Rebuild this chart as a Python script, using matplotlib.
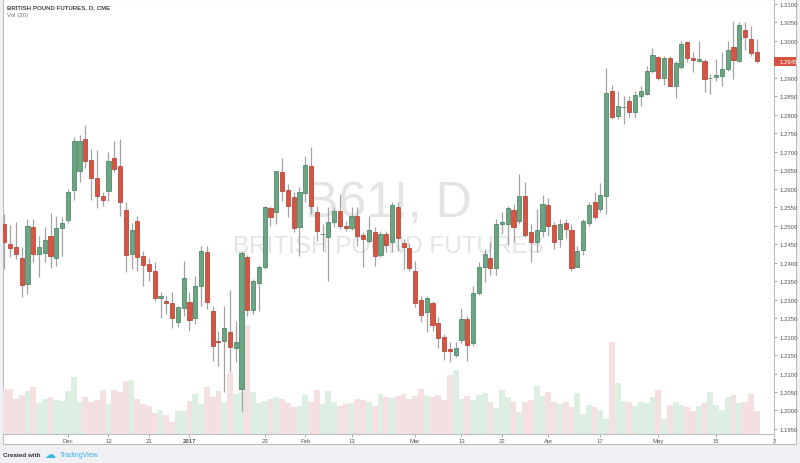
import matplotlib
matplotlib.use('Agg')
import matplotlib.pyplot as plt
from matplotlib.patches import Rectangle
from matplotlib.lines import Line2D
import numpy as np

plt.rcParams['font.family'] = ['Liberation Sans', 'DejaVu Sans']

# daily OHLC, British Pound futures (CME), mid Nov 2016 -> late May 2017
opens = [1.2505, 1.2450, 1.2443, 1.2414, 1.2343, 1.2496, 1.2423, 1.2426, 1.2472, 1.2414,
         1.2495, 1.2516, 1.2596, 1.2649, 1.2735, 1.2679, 1.2629, 1.2580, 1.2595, 1.2683,
         1.2661, 1.2542, 1.2424, 1.2514, 1.2417, 1.2396, 1.2378, 1.2304, 1.2297, 1.2290,
         1.2240, 1.2277, 1.2294, 1.2250, 1.2338, 1.2428, 1.2268, 1.2189, 1.2187, 1.2212,
         1.2169, 1.2058, 1.2416, 1.2272, 1.2344, 1.2388, 1.2547, 1.2536, 1.2646, 1.2597,
         1.2577, 1.2496, 1.2588, 1.2662, 1.2538, 1.2477, 1.2469, 1.2511, 1.2541, 1.2498,
         1.2493, 1.2527, 1.2475, 1.2459, 1.2482, 1.2421, 1.2478, 1.2457, 1.2550, 1.2453,
         1.2440, 1.2377, 1.2300, 1.2266, 1.2291, 1.2237, 1.2198, 1.2166, 1.2150, 1.2192,
         1.2248, 1.2182, 1.2317, 1.2388, 1.2413, 1.2386, 1.2505, 1.2505, 1.2543, 1.2514,
         1.2581, 1.2482, 1.2457, 1.2487, 1.2556, 1.2502, 1.2464, 1.2507, 1.2489, 1.2389,
         1.2435, 1.2507, 1.2563, 1.2545, 1.2581, 1.2865, 1.2798, 1.2820, 1.2838, 1.2807,
         1.2852, 1.2856, 1.2920, 1.2957, 1.2899, 1.2953, 1.2879, 1.2929, 1.2996, 1.2953,
         1.2947, 1.2947, 1.2899, 1.2903, 1.2906, 1.2924, 1.2984, 1.2945, 1.3030, 1.3005,
         1.2971]
highs = [1.2532, 1.2502, 1.2511, 1.2442, 1.2518, 1.2518, 1.2471, 1.2497, 1.2534, 1.2526,
         1.2524, 1.2599, 1.2740, 1.2746, 1.2773, 1.2708, 1.2705, 1.2591, 1.2699, 1.2728,
         1.2735, 1.2563, 1.2507, 1.2526, 1.2432, 1.2412, 1.2401, 1.2322, 1.2309, 1.2320,
         1.2284, 1.2405, 1.2320, 1.2365, 1.2446, 1.2446, 1.2284, 1.2216, 1.2284, 1.2326,
         1.2243, 1.2432, 1.2421, 1.2356, 1.2394, 1.2554, 1.2554, 1.2649, 1.2683, 1.2613,
         1.2590, 1.2606, 1.2690, 1.2712, 1.2554, 1.2505, 1.2550, 1.2550, 1.2586, 1.2514,
         1.2550, 1.2550, 1.2484, 1.2526, 1.2496, 1.2487, 1.2487, 1.2565, 1.2563, 1.2464,
         1.2452, 1.2404, 1.2311, 1.2311, 1.2297, 1.2252, 1.2207, 1.2186, 1.2184, 1.2277,
         1.2257, 1.2338, 1.2401, 1.2437, 1.2457, 1.2518, 1.2537, 1.2554, 1.2559, 1.2640,
         1.2618, 1.2505, 1.2545, 1.2583, 1.2574, 1.2511, 1.2518, 1.2518, 1.2505, 1.2446,
         1.2518, 1.2565, 1.2590, 1.2616, 1.2926, 1.2881, 1.2865, 1.2850, 1.2850, 1.2865,
         1.2879, 1.2933, 1.2980, 1.2960, 1.2960, 1.2960, 1.2947, 1.3001, 1.3001, 1.2971,
         1.2999, 1.2951, 1.2911, 1.2951, 1.2969, 1.3001, 1.3055, 1.3050, 1.3050, 1.3041,
         1.3005]
lows = [1.2383, 1.2415, 1.2410, 1.2306, 1.2315, 1.2403, 1.2362, 1.2403, 1.2386, 1.2390,
        1.2419, 1.2507, 1.2570, 1.2618, 1.2656, 1.2570, 1.2547, 1.2553, 1.2568, 1.2645,
        1.2527, 1.2374, 1.2383, 1.2378, 1.2338, 1.2350, 1.2297, 1.2250, 1.2261, 1.2223,
        1.2225, 1.2257, 1.2214, 1.2234, 1.2284, 1.2275, 1.2135, 1.2121, 1.2049, 1.2103,
        1.2132, 1.1995, 1.2257, 1.2261, 1.2270, 1.2383, 1.2500, 1.2505, 1.2568, 1.2524,
        1.2482, 1.2419, 1.2563, 1.2532, 1.2460, 1.2432, 1.2351, 1.2496, 1.2491, 1.2487,
        1.2489, 1.2446, 1.2387, 1.2453, 1.2390, 1.2415, 1.2428, 1.2428, 1.2432, 1.2383,
        1.2378, 1.2279, 1.2240, 1.2212, 1.2216, 1.2168, 1.2137, 1.2132, 1.2144, 1.2183,
        1.2135, 1.2175, 1.2313, 1.2349, 1.2367, 1.2367, 1.2478, 1.2448, 1.2455, 1.2505,
        1.2469, 1.2401, 1.2428, 1.2469, 1.2471, 1.2437, 1.2442, 1.2466, 1.2378, 1.2387,
        1.2421, 1.2498, 1.2518, 1.2536, 1.2532, 1.2789, 1.2789, 1.2775, 1.2793, 1.2791,
        1.2823, 1.2854, 1.2913, 1.2895, 1.2881, 1.2877, 1.2845, 1.2924, 1.2942, 1.2917,
        1.2942, 1.2861, 1.2856, 1.2892, 1.2877, 1.2920, 1.2897, 1.2942, 1.2976, 1.2960,
        1.2940]
closes = [1.2457, 1.2441, 1.2424, 1.2340, 1.2499, 1.2423, 1.2443, 1.2461, 1.2417, 1.2494,
          1.2508, 1.2591, 1.2730, 1.2730, 1.2674, 1.2628, 1.2580, 1.2570, 1.2676, 1.2653,
          1.2565, 1.2420, 1.2489, 1.2416, 1.2394, 1.2378, 1.2304, 1.2310, 1.2292, 1.2250,
          1.2281, 1.2359, 1.2246, 1.2338, 1.2431, 1.2293, 1.2174, 1.2185, 1.2223, 1.2171,
          1.2186, 1.2427, 1.2272, 1.2350, 1.2388, 1.2550, 1.2524, 1.2647, 1.2595, 1.2554,
          1.2494, 1.2590, 1.2664, 1.2554, 1.2487, 1.2478, 1.2509, 1.2541, 1.2500, 1.2493,
          1.2526, 1.2471, 1.2464, 1.2489, 1.2417, 1.2478, 1.2449, 1.2557, 1.2466, 1.2442,
          1.2385, 1.2291, 1.2258, 1.2305, 1.2232, 1.2195, 1.2162, 1.2162, 1.2170, 1.2248,
          1.2178, 1.2318, 1.2388, 1.2424, 1.2385, 1.2505, 1.2511, 1.2547, 1.2496, 1.2581,
          1.2475, 1.2455, 1.2489, 1.2559, 1.2500, 1.2457, 1.2505, 1.2491, 1.2386, 1.2432,
          1.2513, 1.2556, 1.2523, 1.2584, 1.2859, 1.2793, 1.2825, 1.2821, 1.2807, 1.2854,
          1.2865, 1.2920, 1.2962, 1.2899, 1.2954, 1.2879, 1.2940, 1.2993, 1.2954, 1.2948,
          1.2951, 1.2897, 1.2899, 1.2908, 1.2924, 1.2976, 1.2948, 1.3044, 1.3010, 1.2967,
          1.2945]
# volume, thousands of contracts (rough)
volumes = [90, 90, 70, 78, 86, 94, 62, 70, 74, 68,
           66, 86, 114, 64, 74, 64, 68, 88, 60, 88,
           84, 106, 108, 70, 60, 56, 42, 48, 38, 24,
           46, 46, 66, 80, 60, 94, 74, 86, 64, 122,
           80, 84, 218, 84, 62, 66, 70, 74, 70, 62,
           54, 56, 78, 64, 88, 60, 86, 64, 56, 60,
           62, 70, 68, 64, 56, 80, 74, 72, 76, 80,
           70, 76, 90, 76, 74, 78, 68, 118, 128, 70,
           76, 68, 78, 82, 64, 52, 88, 74, 64, 44,
           64, 68, 96, 76, 84, 64, 60, 64, 54, 82,
           40, 58, 54, 48, 30, 184, 102, 66, 64, 56,
           64, 62, 74, 88, 30, 58, 64, 58, 54, 46,
           56, 62, 84, 58, 48, 74, 78, 62, 64, 80,
           46]

tick_pos = [11, 18, 25, 32, 45, 52, 60, 71, 79, 86, 94, 103, 113, 123, 133]
tick_labels = ['Dec', '12', '21', '2017', '23', 'Feb', '13', 'Mar', '13', '22',
               'Apr', '17', 'May', '15', '2']
price_ticks = [1.195, 1.200, 1.205, 1.210, 1.215, 1.220, 1.225, 1.230, 1.235, 1.240,
               1.245, 1.250, 1.255, 1.260, 1.265, 1.270, 1.275, 1.280, 1.285, 1.290,
               1.300, 1.305, 1.310]
last_price = 1.2945

UP, DOWN = '#6ba583', '#d75442'
UP_EDGE, DOWN_EDGE = '#3f7d59', '#a83a2b'

W, H = 800, 464
def fx(px):
    return px / W
def fy(py):
    return 1 - py / H

fig = plt.figure(figsize=(8, 4.64), dpi=100, facecolor='#eff1f4')
fig.patches.append(Rectangle((fx(3), fy(445)), fx(796) - fx(3), fy(0) - fy(445),
                             transform=fig.transFigure, fc='white', ec='#bdbdbd',
                             lw=0.8, zorder=-5))

rect = [fx(3), fy(435), fx(774) - fx(3), fy(0) - fy(435)]
ax_vol = fig.add_axes(rect)
ax = fig.add_axes(rect, sharex=ax_vol)
ax_vol.set_zorder(1)
ax.set_zorder(2)
ax.patch.set_alpha(0)

o = np.array(opens)
c = np.array(closes)
x = np.arange(len(o))
up = c >= o

# volume overlay
ax_vol.bar(x, volumes, width=1.0, color=np.where(up, '#dcefe2', '#f4e0e0'), linewidth=0)
ax_vol.set_ylim(0, max(volumes) * 4.0)
ax_vol.axis('off')

# watermark
ax.text(0.5, 0.501, 'B61!, D', transform=ax.transAxes, ha='center', va='baseline',
        fontsize=36, color='#e4e4e4', zorder=0)
ax.text(0.5, 0.418, 'BRITISH POUND FUTURES', transform=ax.transAxes, ha='center',
        va='baseline', fontsize=17.5, color='#e4e4e4', zorder=0)

# candles
ax.vlines(x, lows, highs, color='#a3a3a3', lw=0.9, zorder=2)
body_lo = np.minimum(o, c)
body_h = np.maximum(np.abs(c - o), 0.00018)
ax.bar(x, body_h, bottom=body_lo, width=0.72,
       color=np.where(up, UP, DOWN), edgecolor=np.where(up, UP_EDGE, DOWN_EDGE),
       linewidth=0.5, zorder=3)

ax.set_xlim(-0.22, 133.0)
ax.set_ylim(1.19364, 1.31135)

ax.yaxis.tick_right()
ax.set_yticks(price_ticks)
ax.set_yticklabels(['{:.4f}'.format(p) for p in price_ticks])
ax.tick_params(axis='y', length=2, width=0.6, color='#9a9a9a', labelsize=4.3,
               labelcolor='#555555', pad=2)
ax.set_xticks(tick_pos)
ax.set_xticklabels(tick_labels)
ax.tick_params(axis='x', length=2, width=0.6, color='#9a9a9a', labelsize=4.3,
               labelcolor='#555555', pad=1)
for lab in ax.get_xticklabels():
    if lab.get_text() == '2017':
        lab.set_fontweight('bold')

for side in ['top', 'left']:
    ax.spines[side].set_visible(False)
for side in ['bottom', 'right']:
    ax.spines[side].set_color('#bdbdbd')
    ax.spines[side].set_linewidth(0.8)
fig.lines.append(Line2D([fx(774), fx(774)], [fy(435), fy(445)], transform=fig.transFigure,
                        color='#bdbdbd', lw=0.8))

# last price marker on the scale
ax.add_patch(Rectangle((1.0, last_price - 0.00118), 22 / 771, 0.00236,
                       transform=ax.get_yaxis_transform(), fc=DOWN, ec='none',
                       clip_on=False, zorder=5))
ax.text(1.0 + 6 / 771, last_price, '{:.4f}'.format(last_price),
        transform=ax.get_yaxis_transform(), color='white', fontsize=4.3,
        ha='left', va='center', zorder=6, clip_on=False)

# header / footer
fig.text(fx(7), fy(9), 'BRITISH POUND FUTURES, D, CME', fontsize=4.4, fontweight='bold',
         color='#4a4a4a', va='baseline')
fig.text(fx(7), fy(17), 'Vol (20)', fontsize=4.4, color='#777777', va='baseline')
fig.text(fx(3), fy(457), 'Created with', fontsize=4.5, fontweight='bold',
         color='#333333', va='baseline')
fig.text(fx(44), fy(458), '\u2601', fontsize=8, color='#3bb3e4', va='baseline',
         family='DejaVu Sans')
fig.text(fx(60), fy(457), 'TradingView', fontsize=5, color='#3bb3e4', va='baseline')

fig.savefig('out.png', dpi=100, facecolor=fig.get_facecolor())
